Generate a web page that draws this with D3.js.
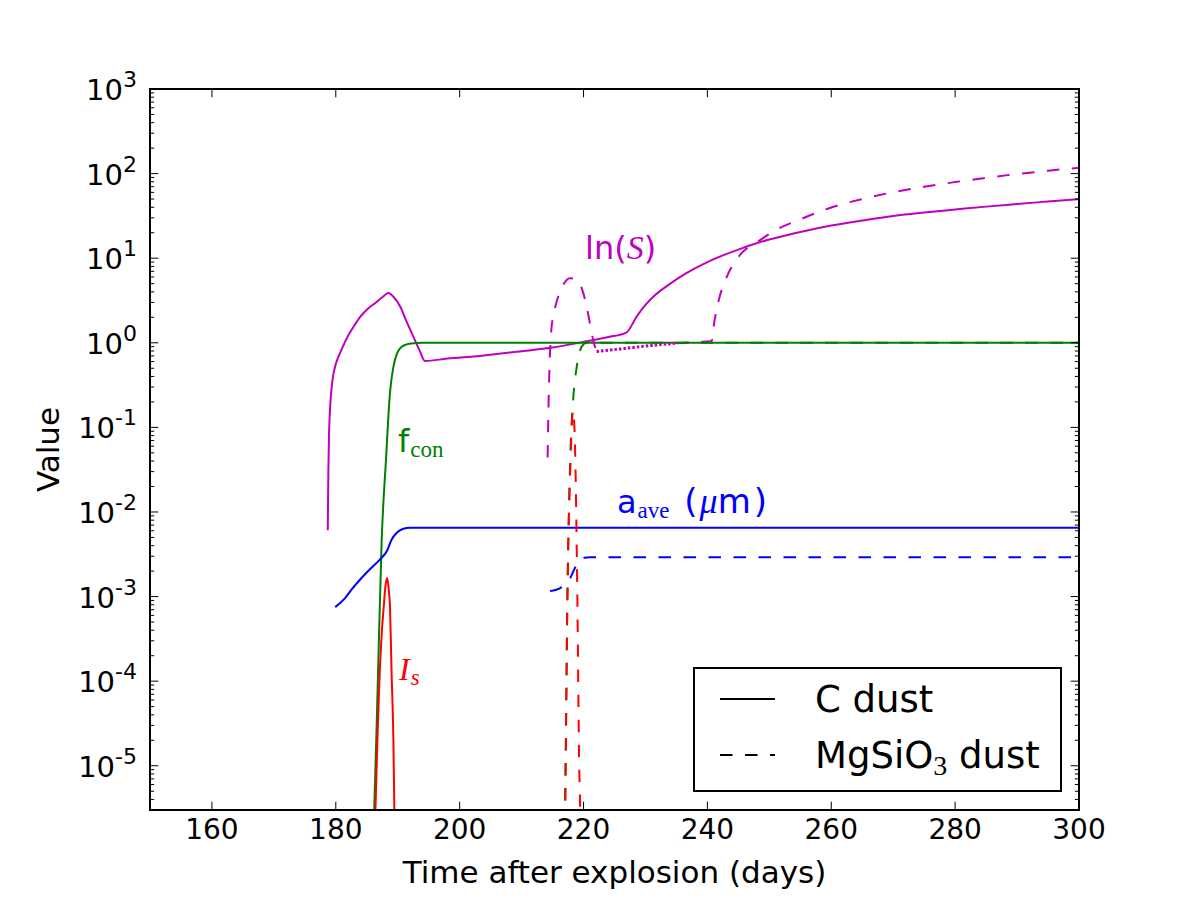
<!DOCTYPE html>
<html>
<head>
<meta charset="utf-8">
<script src="https://cdnjs.cloudflare.com/ajax/libs/d3/7.8.5/d3.min.js"></script>
<style>
body { margin: 0; background: #fff; }
text { font-family: "DejaVu Sans", sans-serif; }
.serif { font-family: "Liberation Serif", "DejaVu Serif", serif; }
</style>
</head>
<body>
<div id="vis"></div>
<script>
// data: [day, value]
// C dust (solid)
var lnS_C = [[178.7,0.0061],[178.8,0.03],[178.9,0.08],[179.06,0.162],[179.3,0.28],[179.55,0.40],[180.0,0.56],[180.7,0.76],
  [181.5,1.03],[182.3,1.33],[183.0,1.6],[184.0,2.05],[185.0,2.46],[186.5,3.0],[187.5,3.45],[188.5,3.87],[189.3,3.5],[190.4,2.68],
  [191.4,1.8],[192.5,1.19],[193.5,0.82],[194.4,0.61],[198,0.65],[203.3,0.70],[209.7,0.79],[215,0.88],[220.5,1.04],
  [224,1.17],[226.9,1.32],[228.6,2.05],[230,2.8],[231.3,3.52],[234,5.0],[236.6,6.65],[240,9.0],[245.3,12.9],[248.2,15.2],
  [250,16.6],[255,20.4],[260,24.3],[265,27.9],[270,31.6],[275,34.7],[280,37.6],[285,40.7],[290,43.7],[295,46.8],[300,50.1]];
var fcon_C = [[185.8,1e-6],[186.2,3e-6],[186.8,1.1e-4],[187.4,0.0045],[188.1,0.041],[188.75,0.257],[189.3,0.52],
  [189.8,0.72],[190.4,0.865],[191.3,0.95],[192.5,0.99],[194,1.0],[300,1.0]];
var aave_C = [[179.9,7.5e-4],[180.7,8.4e-4],[181.5,9.6e-4],[182.5,1.2e-3],[183.9,1.58e-3],[185.5,2.1e-3],[187.1,2.74e-3],
  [188.3,3.5e-3],[189.0,4.7e-3],[189.8,5.65e-3],[190.8,6.3e-3],[192.0,6.5e-3],[300,6.5e-3]];
var Is_C = [[186.2,1e-6],[186.4,3e-6],[186.8,3.2e-5],[187.1,1.3e-4],[187.45,4e-4],[187.75,7.7e-4],[188.0,1.3e-3],
  [188.3,1.66e-3],[188.55,1.2e-3],[188.75,7.7e-4],[189.0,1.3e-4],[189.3,2e-5],[189.45,3e-6],[189.55,1e-6]];

// MgSiO3 dust (dashed)
var lnS_Mg = [[214.2,0.044],[214.3,0.12],[214.5,0.5],[214.8,1.43],[215.2,2.2],[215.6,2.95],[216.5,4.5],[217.8,5.8],
  [218.5,5.7],[219.2,5.3],[219.9,4.0],[220.5,2.68],[221.1,1.6],[221.6,1.04],[222.1,0.79]];
var lnS_Mg_noisy = [[222.1,0.79],[225,0.83],[228,0.88],[231,0.93],[235,0.99]];
var lnS_Mg_late = [[235,0.99],[238,1.02],[240.7,1.05],[241,1.55],[241.5,2.5],[242,3.55],[243.4,6.65],[245.3,11],
  [248.2,15.8],[251,21.4],[255,28.8],[260,39.8],[265,50.1],[270,60.3],[275,70],[280,79.4],[285,89.1],[290,98.9],
  [295,108],[300,117.5]];
var fcon_Mg = [[216.9,1e-6],[217.0,3e-6],[217.4,1e-3],[217.9,0.054],[218.3,0.2],[218.9,0.52],[219.7,0.9],
  [220.5,1.0],[300,1.0]];
var aave_Mg = [[214.6,1.16e-3],[216.3,1.27e-3],[217.7,1.58e-3],[218.5,2.09e-3],[219.4,2.74e-3],[220.2,2.88e-3],
  [221.0,2.92e-3],[300,2.92e-3]];
var Is_Mg = [[216.95,1e-6],[217.05,3e-6],[217.4,1e-3],[217.9,0.04],[218.3,0.16],[218.6,0.07],[219.0,1e-3],
  [219.3,1e-5],[219.45,3e-6],[219.5,1e-6]];

var xTicks = [160, 180, 200, 220, 240, 260, 280, 300];
var yExps = [-5, -4, -3, -2, -1, 0, 1, 2, 3];

var W = 1200, H = 900;
var pLeft = 150, pRight = 1079, pTop = 89, pBottom = 810;

var svg = d3.select("#vis").append("svg")
  .attr("width", W).attr("height", H);

var x = d3.scaleLinear().domain([150, 300]).range([pLeft, pRight]);
var y = d3.scaleLog().domain([3e-6, 1e3]).range([pBottom, pTop]);

svg.append("clipPath").attr("id", "clip")
  .append("rect").attr("x", pLeft).attr("y", pTop)
  .attr("width", pRight - pLeft).attr("height", pBottom - pTop);

var line = d3.line()
  .x(function(d) { return x(d[0]); })
  .y(function(d) { return y(d[1]); })
  .curve(d3.curveMonotoneX);

var plot = svg.append("g").attr("clip-path", "url(#clip)");

var MAG = "#bf00bf", GRN = "#008000", BLU = "#0000ff", RED = "#ff0000";
var DASH = "12.5,12.5";

var series = [
  {d: lnS_C, c: MAG}, {d: fcon_C, c: GRN}, {d: aave_C, c: BLU}, {d: Is_C, c: RED},
  {d: lnS_Mg, c: MAG, dash: DASH}, {d: lnS_Mg_noisy, c: MAG, dash: "2.5,2", w: 3}, {d: lnS_Mg_late, c: MAG, dash: DASH},
  {d: fcon_Mg, c: GRN, dash: DASH}, {d: aave_Mg, c: BLU, dash: DASH}, {d: Is_Mg, c: RED, dash: DASH}
];

series.forEach(function(s) {
  plot.append("path")
    .datum(s.d)
    .attr("d", line)
    .attr("fill", "none")
    .attr("stroke", s.c)
    .attr("stroke-width", s.w || 2)
    .attr("stroke-dasharray", s.dash || null);
});

// frame
svg.append("rect")
  .attr("x", pLeft).attr("y", pTop)
  .attr("width", pRight - pLeft).attr("height", pBottom - pTop)
  .attr("fill", "none").attr("stroke", "#000").attr("stroke-width", 2);

// x ticks (inside, top and bottom)
var ax = svg.append("g");
xTicks.forEach(function(t) {
  ax.append("line").attr("x1", x(t)).attr("x2", x(t)).attr("y1", pBottom).attr("y2", pBottom - 8.3)
    .attr("stroke", "#000").attr("stroke-width", 1);
  ax.append("line").attr("x1", x(t)).attr("x2", x(t)).attr("y1", pTop).attr("y2", pTop + 8.3)
    .attr("stroke", "#000").attr("stroke-width", 1);
  ax.append("text").attr("x", x(t)).attr("y", 839)
    .attr("text-anchor", "middle").attr("font-size", 28).text(t);
});

// y ticks
var ay = svg.append("g");
yExps.forEach(function(e) {
  var v = Math.pow(10, e);
  [[pLeft, 8.3], [pRight, -8.3]].forEach(function(p) {
    ay.append("line").attr("x1", p[0]).attr("x2", p[0] + p[1]).attr("y1", y(v)).attr("y2", y(v))
      .attr("stroke", "#000").attr("stroke-width", 1);
  });
  for (var m = 2; m <= 9; m++) {
    var mv = m * Math.pow(10, e - 1);
    if (mv < 3e-6) continue;
    [[pLeft, 4.2], [pRight, -4.2]].forEach(function(p) {
      ay.append("line").attr("x1", p[0]).attr("x2", p[0] + p[1]).attr("y1", y(mv)).attr("y2", y(mv))
        .attr("stroke", "#000").attr("stroke-width", 1);
    });
  }
  var lab = ay.append("text").attr("x", 137).attr("y", y(v) + 11)
    .attr("text-anchor", "end").attr("font-size", 29);
  lab.append("tspan").text("10");
  lab.append("tspan").attr("font-size", 22).attr("dy", -13).text(e < 0 ? "-" + (-e) : e);
});

// axis labels
svg.append("text").attr("x", (pLeft + pRight) / 2).attr("y", 883)
  .attr("text-anchor", "middle").attr("font-size", 31).text("Time after explosion (days)");
svg.append("text").attr("transform", "translate(59," + ((pTop + pBottom) / 2) + ") rotate(-90)")
  .attr("text-anchor", "middle").attr("font-size", 31).text("Value");

// curve labels
var l1 = svg.append("text").attr("x", 585).attr("y", 259).attr("font-size", 32).attr("fill", MAG);
l1.append("tspan").text("ln(");
l1.append("tspan").attr("class", "serif").attr("font-style", "italic").attr("font-size", 34).text("S");
l1.append("tspan").text(")");

var l2 = svg.append("text").attr("x", 398).attr("y", 452).attr("font-size", 32).attr("fill", GRN);
l2.append("tspan").text("f");
l2.append("tspan").attr("class", "serif").attr("font-size", 23).attr("dy", 5).attr("dx", 1).text("con");

var l3 = svg.append("text").attr("x", 617).attr("y", 513).attr("font-size", 32).attr("fill", BLU);
l3.append("tspan").text("a");
l3.append("tspan").attr("class", "serif").attr("font-size", 23).attr("dy", 5).attr("dx", 1).text("ave");
l3.append("tspan").attr("dy", -5).attr("dx", 4).attr("font-size", 34).text(" (");
l3.append("tspan").attr("class", "serif").attr("font-style", "italic").attr("font-size", 36).attr("dx", 2).text("\u03bc");
l3.append("tspan").attr("font-size", 34).attr("letter-spacing", 3).text("m)");

var l4 = svg.append("text").attr("x", 399).attr("y", 680).attr("class", "serif")
  .attr("font-size", 32).attr("fill", RED).attr("font-style", "italic");
l4.append("tspan").text("I");
l4.append("tspan").attr("font-size", 23).attr("dy", 5).attr("dx", 1).text("s");

// legend
var lg = svg.append("g");
lg.append("rect").attr("x", 694).attr("y", 668).attr("width", 367).attr("height", 123)
  .attr("fill", "#fff").attr("stroke", "#000").attr("stroke-width", 2);
var legItems = [{t: "C dust", dash: null, y: 699}, {t: "MgSiO", sub: "3", post: " dust", dash: DASH, y: 755}];
legItems.forEach(function(it) {
  lg.append("line").attr("x1", 720).attr("x2", 775).attr("y1", it.y).attr("y2", it.y)
    .attr("stroke", "#000").attr("stroke-width", 2).attr("stroke-dasharray", it.dash);
  var tx = lg.append("text").attr("x", 815).attr("y", it.y + 13).attr("font-size", 37);
  tx.append("tspan").text(it.t);
  if (it.sub) {
    tx.append("tspan").attr("class", "serif").attr("font-size", 28).attr("dy", 7).text(it.sub);
    tx.append("tspan").attr("dy", -7).text(it.post);
  }
});
</script>
</body>
</html>
